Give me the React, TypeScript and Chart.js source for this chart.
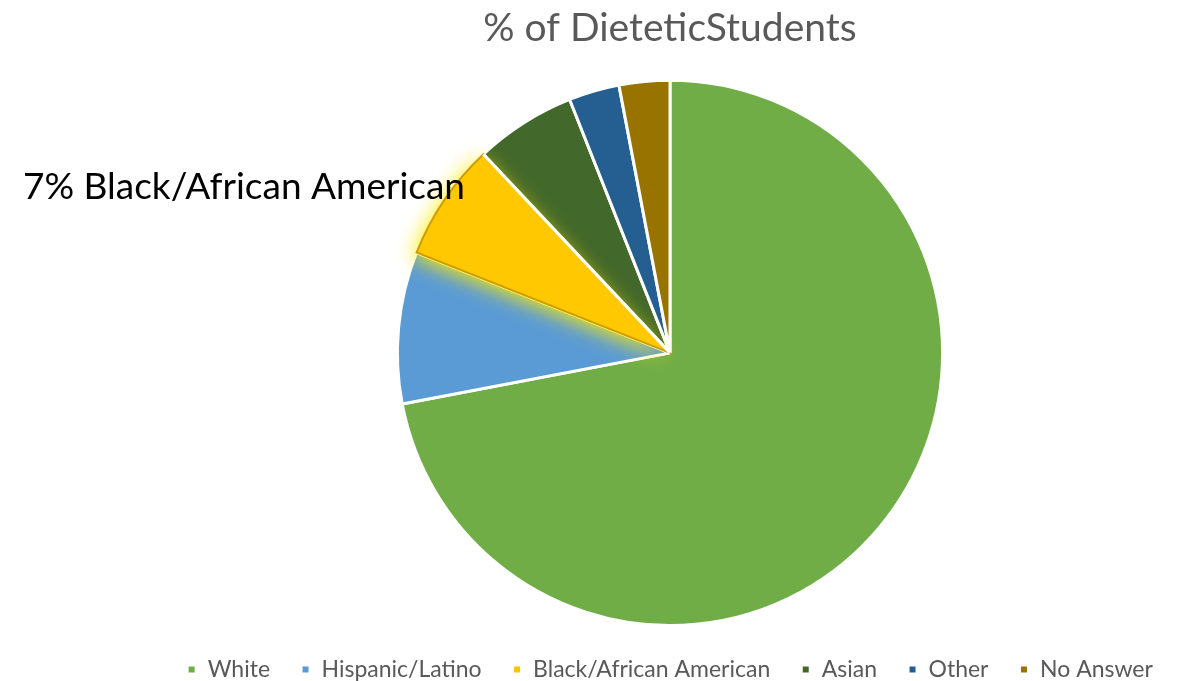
import React, { useEffect, useRef } from "react";
import { Chart, registerables } from "chart.js";

Chart.register(...registerables);

const categories = ["White", "Hispanic/Latino", "Black/African American", "Asian", "Other", "No Answer"];
const values = [72, 9, 7, 6, 3, 3];
const colors = ["#70AD47", "#5B9BD5", "#FFC000", "#43682B", "#255E91", "#997300"];
const titleText = "% of DieteticStudents";
const calloutText = "7% Black/African American";
const highlightIndex = 2;

const FONT = "Lato, 'Open Sans', sans-serif";

const highlightPlugin = {
  id: "highlight",
  afterDatasetsDraw(chart: any) {
    const meta = chart.getDatasetMeta(0);
    const arc = meta.data[highlightIndex];
    if (!arc) return;
    const ctx = chart.ctx;
    const { x, y, startAngle, endAngle, outerRadius } = arc.getProps(["x", "y", "startAngle", "endAngle", "outerRadius"], true);
    ctx.save();
    ctx.beginPath();
    ctx.moveTo(x, y);
    ctx.arc(x, y, outerRadius, startAngle, endAngle);
    ctx.closePath();
    ctx.shadowColor = "rgba(255, 235, 0, 0.95)";
    ctx.shadowBlur = 20;
    ctx.shadowOffsetX = -4;
    ctx.shadowOffsetY = 4;
    ctx.fillStyle = "#FFC800";
    ctx.fill();
    ctx.shadowBlur = 0;
    ctx.shadowOffsetX = 0;
    ctx.shadowOffsetY = 0;
    ctx.lineWidth = 2;
    ctx.strokeStyle = "rgba(200, 150, 0, 0.9)";
    ctx.stroke();
    // white separator toward the Asian slice
    ctx.beginPath();
    ctx.moveTo(x, y);
    ctx.lineTo(x + Math.cos(endAngle) * outerRadius, y + Math.sin(endAngle) * outerRadius);
    ctx.lineWidth = 3;
    ctx.strokeStyle = "#ffffff";
    ctx.stroke();
    ctx.restore();

    // callout label
    ctx.save();
    ctx.font = `37px ${FONT}`;
    ctx.fillStyle = "#000000";
    ctx.textAlign = "right";
    ctx.textBaseline = "middle";
    ctx.fillText(calloutText, x - outerRadius * 0.752, y - outerRadius * 0.607);
    ctx.restore();
  },
};

export default function App() {
  const ref = useRef<HTMLCanvasElement>(null);
  useEffect(() => {
    if (!ref.current) return;
    const chart = new Chart(ref.current, {
      type: "pie",
      data: {
        labels: categories,
        datasets: [
          {
            data: values,
            backgroundColor: colors,
            borderColor: "#ffffff",
            borderWidth: 3,
          },
        ],
      },
      options: {
        animation: false,
        responsive: true,
        maintainAspectRatio: false,
        layout: { padding: { left: 147, right: 0, top: 0, bottom: -10 } },
        plugins: {
          title: {
            display: true,
            text: titleText,
            color: "#595959",
            font: { size: 39, family: FONT, weight: "normal" },
            padding: { top: 5, bottom: 27 },
          },
          legend: {
            position: "bottom",
            labels: {
              color: "#595959",
              font: { size: 23, family: FONT },
              usePointStyle: true,
              pointStyle: "rect",
              boxWidth: 9,
              boxHeight: 9,
              padding: 31,
            },
          },
          tooltip: { enabled: false },
        },
      },
      plugins: [highlightPlugin],
    });
    return () => chart.destroy();
  }, []);
  return (
    <div style={{ position: "absolute", left: 0, top: 0, width: 1193, height: 681, background: "#fff" }}>
      <canvas ref={ref} />
    </div>
  );
}
